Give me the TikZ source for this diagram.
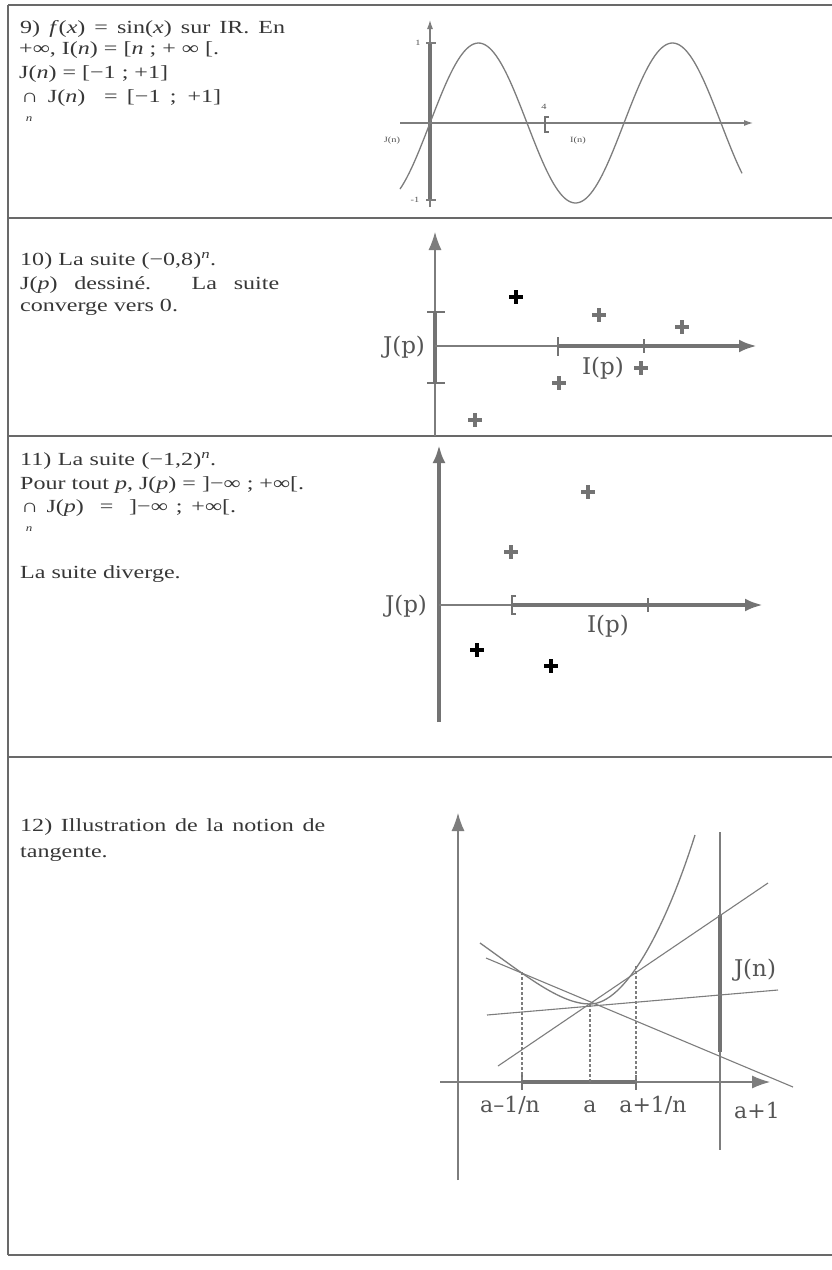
\documentclass[tikz,border=0pt]{standalone}
\usepackage{fontspec}
\setmainfont{Liberation Serif}[FakeStretch=1.3]
\newfontfamily\gfont{DejaVu Serif}
\usetikzlibrary{arrows.meta}
\definecolor{ink}{RGB}{55,55,55}
\definecolor{ax}{RGB}{125,125,125}
\definecolor{thk}{RGB}{115,115,115}
\definecolor{framec}{RGB}{105,105,105}
\definecolor{lab}{RGB}{85,85,85}
\begin{document}
\begin{tikzpicture}[x=1pt,y=-1pt,
  txt/.style={anchor=base west,inner sep=0,text=ink,font=\fontsize{18.5}{21}\selectfont},
  subn/.style={anchor=base,inner sep=0,text=ink,font=\fontsize{10}{11}\selectfont\itshape},
  tiny/.style={inner sep=0,text=lab,font=\fontsize{8}{9}\selectfont},
  glab/.style={inner sep=0,text=lab,font=\gfont\fontsize{23}{25}\selectfont},
  alab/.style={anchor=base,inner sep=0,text=lab,font=\gfont\fontsize{22}{24}\selectfont},
  axis/.style={draw=ax,line width=1.1pt},
  thickax/.style={draw=thk,line width=4.5pt},
  tipA/.style={-{Latex[length=18pt,width=13pt]}},
  tipS/.style={-{Latex[length=9pt,width=6pt]}},
  framel/.style={draw=framec,line width=1.6pt},
  curve/.style={draw=ax,line width=1.3pt},
  dashv/.style={draw=ax,line width=1.1pt,dashed,dash pattern=on 3pt off 2pt},
  plusm/.pic={\draw[line width=4.5pt] (-7,0)--(7,0) (0,-7)--(0,7);}
]
\useasboundingbox (0,0) rectangle (832,1270);
\fill[white] (0,0) rectangle (832,1270);

% frame
\draw[framel] (8,5) -- (8,1255);
\draw[framel] (8,5) -- (832,5);
\draw[framel] (8,218) -- (832,218);
\draw[framel] (8,436) -- (832,436);
\draw[framel] (8,757) -- (832,757);
\draw[framel] (8,1255) -- (832,1255);

% ---------- section 9 text
\node[txt] (t9a) at (20,33) {\makebox[265pt][s]{9) \textit{f}(\textit{x}) = sin(\textit{x}) sur IR. En}};
\node[txt] (t9b) at (19,54) {+∞, I(\textit{n}) = [\textit{n} ; + ∞ [.};
\node[txt] (t9c) at (19,78) {J(\textit{n}) = [−1 ; +1]};
\node[txt] (t9d) at (21,102) {\makebox[200pt][s]{∩ J(\textit{n}) \ = [−1 ; +1]}};
\node[subn] (t9n) at (29,121) {n};

% ---------- section 9 graph
\draw[axis,tipS] (430,207) -- (430,20);
\draw[thickax,line width=4pt] (430,43) -- (430,200);
\draw[axis] (426,43) -- (436,43) (426,200) -- (436,200);
\draw[axis,tipS] (400,123) -- (753,123);
\draw[curve] plot[domain=400:742,samples=150] (\x,{123-80*sin((\x-430)/97*180)});
\draw[draw=thk,line width=1.8pt] (549,117) -- (545,117) -- (545,132) -- (549,132);
\node[tiny] (l9one) at (418,43) {1};
\node[tiny] (l9mone) at (415,200) {-1};
\node[tiny] (l9four) at (544,107) {4};
\node[tiny] (l9J) at (392,141) {J(n)};
\node[tiny] (l9I) at (578,141) {I(n)};

% ---------- section 10 text
\node[txt] (t10a) at (20,265) {\makebox[196pt][s]{10) La suite (−0,8)\textsuperscript{\textit{n}}.}};
\node[txt] (t10b) at (20,289) {\makebox[259pt][s]{J(\textit{p}) dessiné. La suite}};
\node[txt] (t10c) at (20,311) {converge vers 0.};

% ---------- section 10 graph
\draw[axis,tipA] (435,436) -- (435,232);
\draw[thickax] (435,312) -- (435,383);
\draw[draw=thk,line width=2pt] (427,312) -- (445,312) (427,383) -- (445,383);
\draw[axis] (435,346) -- (558,346);
\draw[thickax,tipA] (558,346) -- (757,346);
\draw[draw=thk,line width=1.8pt] (558,337) -- (558,356);
\draw[draw=thk,line width=1.2pt] (644,339) -- (644,353);
\node[glab] (l10J) at (404,347) {J(p)};
\node[glab] (l10I) at (603,368) {I(p)};
\pic[black] at (516,297) {plusm};
\pic[thk] at (599,315) {plusm};
\pic[thk] at (682,327) {plusm};
\pic[thk] at (641,368) {plusm};
\pic[thk] at (559,383) {plusm};
\pic[thk] at (475,420) {plusm};

% ---------- section 11 text
\node[txt] (t11a) at (20,465) {\makebox[196pt][s]{11) La suite (−1,2)\textsuperscript{\textit{n}}.}};
\node[txt] (t11b) at (20,489) {\makebox[284pt][s]{Pour tout \textit{p}, J(\textit{p}) = ]−∞ ; +∞[.}};
\node[txt] (t11c) at (21,512) {\makebox[215pt][s]{∩ J(\textit{p}) \ = \ ]−∞ ; +∞[.}};
\node[subn] (t11n) at (29,531) {n};
\node[txt] (t11d) at (20,578) {La suite diverge.};

% ---------- section 11 graph
\draw[thickax,tipA] (439,722) -- (439,445);
\draw[axis] (439,605) -- (512,605);
\draw[thickax,tipA] (512,605) -- (763,605);
\draw[draw=thk,line width=1.8pt] (516,596) -- (512,596) -- (512,614) -- (516,614);
\draw[draw=thk,line width=1.2pt] (648,598) -- (648,612);
\node[glab] (l11J) at (406,606) {J(p)};
\node[glab] (l11I) at (608,626) {I(p)};
\pic[thk] at (588,492) {plusm};
\pic[thk] at (511,552) {plusm};
\pic[black] at (477,650) {plusm};
\pic[black] at (551,666) {plusm};

% ---------- section 12 text
\node[txt] (t12a) at (20,831) {\makebox[305pt][s]{12) Illustration de la notion de}};
\node[txt] (t12b) at (20,857) {tangente.};

% ---------- section 12 graph
\draw[axis,tipA] (458,1180) -- (458,813);
\draw[axis,tipA] (440,1082) -- (770,1082);
\draw[axis] (720,832) -- (720,1150);
\draw[thickax,line width=4pt] (720,915) -- (720,1052);
\draw[thickax,line width=4pt] (522,1082) -- (636,1082);
\draw[draw=thk,line width=1.5pt] (522,1075) -- (522,1090) (636,1075) -- (636,1090);
\draw[dashv] (522,972) -- (522,1082);
\draw[dashv] (590,1004) -- (590,1082);
\draw[dashv] (636,966) -- (636,1082);
\draw[curve] (480,943) .. controls (525,975) and (560,1004) .. (590,1004)
  .. controls (625,1004) and (665,930) .. (695,835);
\draw[axis] (487,1015) -- (778,990);
\draw[axis] (486,958) -- (793,1087);
\draw[axis] (498,1066) -- (768,883);
\node[glab] (l12J) at (755,970) {J(n)};
\node[alab] (l12a1) at (510,1112) {a–1/n};
\node[alab] (l12a) at (590,1112) {a};
\node[alab] (l12a2) at (653,1112) {a+1/n};
\node[alab] (l12a3) at (757,1118) {a+1};
\end{tikzpicture}
\end{document}
